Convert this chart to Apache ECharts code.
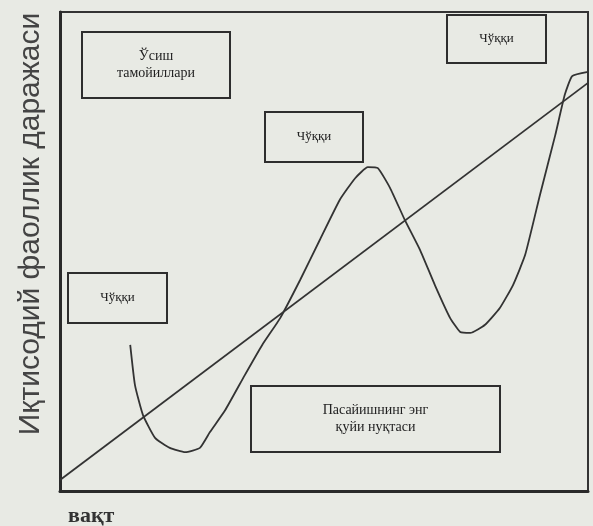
<!DOCTYPE html>
<html>
<head>
<meta charset="utf-8">
<script src="https://cdn.jsdelivr.net/npm/echarts@6/dist/echarts.min.js"></script>
<style>
  html, body { margin: 0; padding: 0; background: #e8eae4; }
  #chart { width: 593px; height: 526px; }
</style>
</head>
<body>
<div id="chart"></div>
<script>
// trend line (long-run growth)
var trendData = [[0, 2.3], [100, 85.2]];

// business cycle curve
var cycleData = [
  [13.3, 30.5], [14.2, 22.1], [15.7, 15.9], [18.0, 11.1], [20.8, 9.0],
  [23.7, 8.1], [26.5, 9.0], [28.4, 12.3], [31.3, 16.9], [35.0, 24.2],
  [38.3, 30.5], [41.7, 36.1], [45.5, 44.1], [49.2, 52.4], [53.0, 60.8],
  [55.9, 65.3], [58.3, 67.6], [60.2, 67.4], [62.5, 63.3], [65.3, 56.6],
  [68.2, 50.3], [71.0, 43.0], [73.9, 36.1], [75.8, 33.2], [77.7, 33.0],
  [80.5, 34.7], [83.3, 38.2], [85.8, 43.0], [88.1, 49.3], [90.9, 61.8],
  [93.8, 74.3], [95.6, 82.7], [97.0, 86.6], [100, 87.5]
];

var yName = 'Иқтисодий фаоллик даражаси';
var xName = 'вақт';

var myChart = echarts.init(document.getElementById('chart'));

function box(x, y, w, h, text, fontSize) {
  return [
    {
      type: 'rect',
      shape: { x: x, y: y, width: w, height: h },
      style: { fill: 'transparent', stroke: '#2e2e2e', lineWidth: 2 }
    },
    {
      type: 'text',
      x: x + w / 2,
      y: y + h / 2,
      style: {
        text: text,
        fill: '#222',
        font: fontSize + 'px "Liberation Serif", serif',
        align: 'center',
        verticalAlign: 'middle',
        lineHeight: fontSize + 3
      }
    }
  ];
}

var annotations = [].concat(
  box(82, 32, 148, 66, 'Ўсиш\nтамойиллари', 14),
  box(265, 112, 98, 50, 'Чўққи', 13),
  box(447, 15, 99, 48, 'Чўққи', 13),
  box(68, 273, 99, 50, 'Чўққи', 13),
  box(251, 386, 249, 66, 'Пасайишнинг энг\nқуйи нуқтаси', 14)
);

annotations.push({
  type: 'text',
  x: 31,
  y: 224,
  rotation: Math.PI / 2,
  style: {
    text: yName,
    fill: '#444',
    font: '30px "Liberation Sans", sans-serif',
    align: 'center',
    verticalAlign: 'middle'
  }
});
annotations.push({
  type: 'text',
  x: 68,
  y: 516,
  style: {
    text: xName,
    fill: '#333',
    font: 'bold 22px "Liberation Serif", serif',
    align: 'left',
    verticalAlign: 'middle'
  }
});

myChart.setOption({
  backgroundColor: '#e8eae4',
  animation: false,
  grid: {
    left: 60,
    right: 5,
    top: 12,
    bottom: 35,
    show: true,
    borderColor: '#333',
    borderWidth: 2
  },
  xAxis: {
    type: 'value',
    min: 0,
    max: 100,
    axisLine: { show: true, lineStyle: { color: '#2a2a2a', width: 3 } },
    axisTick: { show: false },
    axisLabel: { show: false },
    splitLine: { show: false }
  },
  yAxis: {
    type: 'value',
    min: 0,
    max: 100,
    axisLine: { show: true, lineStyle: { color: '#2a2a2a', width: 3 } },
    axisTick: { show: false },
    axisLabel: { show: false },
    splitLine: { show: false }
  },
  series: [
    {
      name: 'trend',
      type: 'line',
      data: trendData,
      symbol: 'none',
      lineStyle: { color: '#333', width: 1.8 }
    },
    {
      name: 'cycle',
      type: 'line',
      data: cycleData,
      symbol: 'none',
      smooth: 0.15,
      lineStyle: { color: '#333', width: 1.8 }
    }
  ],
  graphic: annotations
});
</script>
</body>
</html>
